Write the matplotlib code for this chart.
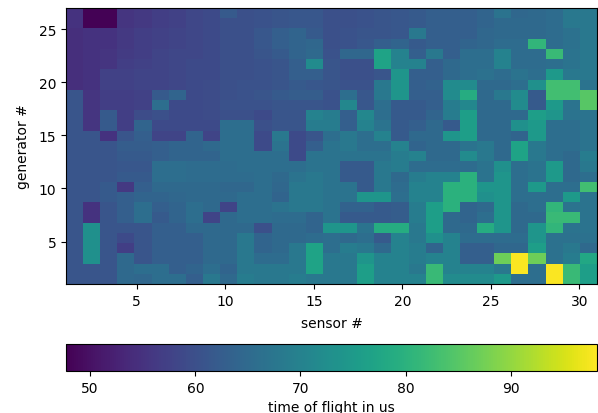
import matplotlib
matplotlib.use('Agg')
import matplotlib.pyplot as plt
import numpy as np

# time of flight, top row is generator 27, columns are sensors 1..31
tof = [
 [55,48,48,55.5,56,57,57.5,58.5,59,62,60,60.5,61,61.5,61.5, 60,60,60.5,61,61.5,62,63,63,63,64,67,64.5,65,65.5,68,68],
 [55,48,48,55.5,56,57,57.5,58.5,59,60,60,60.5,61,61.5,61.5, 60,60,60.5,61,61.5,62,63,63,63,64,65,65,65,65.5,68,68],
 [54.5,55,55,56,57,57.5,58,58.5,59,60,60,61.5,63,64,62, 60,60.5,61,61,61.5,68,63,63,63,64.5,65,65,65,65.5,66.5,68],
 [54.5,55,55,56,57,57.5,58,58.5,59,60,60,61.5,63,64,64.5, 60,60.5,61.5,63,64,62,63,63,64,64.5,65.5,65.5,81,65.5,66.5,68],
 [54.5,55,55.5,56.5,57,58,58.5,58.5,59,60,60,61,62,64,65, 60.5,64.5,64.5,77,70,63,68,63,66,66,70,65.5,65.5,82,67,68],
 [54.5,55,55.5,57,57.5,58,58.5,59,59,60,60,60.5,61,63,72, 61,60,60,77,70,70,63,65,66,66,70,65.5,65.5,66,67,68],
 [54.5,55,57.5,57.5,58,58,58.5,59,59,60,60,60.5,61,63,63, 61,60,60,61,74,63,63,65,66,66.5,65.5,67,66,75,68,68],
 [54.5,55,57.5,57.5,58,58,58.5,59,59.5,60,60.5,60.5,61,62,61.5, 61,60.5,60.5,68,74,63,63.5,72,72,65,65,66,73,83,83,67],
 [61,55.5,57,57,57.5,62,64,59,59.5,60,60.5,61,62,62.5,62.5, 60.5,66,61.5,68,74,63,63,72,79,65,68,72,62,83,83,85],
 [61,55.5,57,57,57.5,66,59,59,59.5,60.5,60.5,60.5,61,61,61, 60.5,71,61.5,66,62,62,63,69,71,65,65,72,62,75,67,85],
 [61,55.5,62,57,59.5,60,59,59,59.5,60,60,59,61,61,70, 69,63,71,66,62,62,64,69,76,65,65,65,76,74,67,67],
 [61,55.5,62,57,64,59,59,59,59,66,66,60,61,61,69, 69,63,70,67,62,63,65,62,76,65,65,73,75,66,66,67],
 [61,61,55,61,63,58,58,64,58,66,66,59,68,59,61, 66,68,66,70,62,65,65,74,76,65,65,64,75,66,66,67],
 [61,61,61,62.5,62.5,63,64,64,65,66,66,59,67,59,63, 67,68,66,66,70,64,65,65,67,68,65,77,68,66,66,67],
 [61,61,61,62,62,63,64,64,64,66,66,66,66,59,67, 67,67,67,67,69,70,65,65,72,68,65,77,68,66,65,69],
 [61,61,61,61.5,61.5,66,66,65.5,65.5,65.5,66,66,66,66,67, 67,62,62,68,69,65.5,65.5,65.5,65.5,67,73,66,67,75,65,68],
 [61,61,61,62,62,66,66,65.5,65.5,65.5,65.5,66,65,67,68, 67,62,62,68,65,69,70,70,80,67,74,66,67,75,65,66],
 [61,61,62,56,63,65,65,65,65,64.5,64.5,66,64.5,68,68, 67,67,62,68,65.5,70,70,80,80,74,74,66,75,66,66,83],
 [61,61,62,63,64,64,64.5,65,65,65,66,66,64,68,68, 67,67,74,74,66,70,70,80,80,73,74,66,66,66,75,67],
 [61,55,61,63,66,63,64,66,65,58,66,66,67,68,68, 67,63.5,63.5,62,62.5,69,76,80,64,65,74,65,66,81,67,67],
 [61,55,61,63,66,62,64,66,58,65,66,66,65.5,65.5,64, 67,62,62,62,62.5,69,76,65,64,66,74,65,65,82,82,67],
 [61,73,61,61,61,63,63,65,65,65,65,60,65,65,64, 74,74,67,79,79,68,76,65,65,79,74,65,74,81,67,67],
 [61,73,61,59,61,63,63,63,65,65,68,64,65,65,65.5, 66,65,66,62,70,68,73,70,65.5,65.5,65.5,65.5,74,66.5,66.5,66.5],
 [61,73,61,57,61,63,63,63,65,65,68,64,65,68,77, 66,69,68,65,70,69,64,70,63,63,64.5,64.5,76,66.5,68,65],
 [61,73,61,65,61,63,63,63,65,65,68,65.5,65.5,68,77, 68,68,74,70,70,69,70,70,63,63,87,98,87,66.5,69,78],
 [61,61,61,65,66,66,63,64,66,64,68,68,68,68,77, 68,68,76,70,70,68,82,70,70,70,68,98,66,98,82,76],
 [61,61,61,65,64.5,66,66,63,68,65,69,68,68,69,68, 68,68,76,70,70,70,82,72,72,72,75,66,66,98,82,76],
]
sensor_range = [1, 31]
generator_range = [1, 27]
tof_min, tof_max = 47.7, 98.2

W, H = 598, 414
fig = plt.figure(figsize=(W/100, H/100), dpi=100)
ax = fig.add_axes([66/W, 1-285/H, 531/W, 276/H])
cax = fig.add_axes([66/W, 1-372/H, 531/W, 27/H])

im = ax.imshow(np.array(tof), aspect='auto', cmap='viridis', vmin=tof_min, vmax=tof_max,
               extent=[sensor_range[0], sensor_range[1], generator_range[0], generator_range[1]],
               interpolation='nearest')
ax.set_xticks([5, 10, 15, 20, 25, 30])
ax.set_yticks([5, 10, 15, 20, 25])
ax.tick_params(labelsize=10)
ax.set_xlabel('sensor #', fontsize=10, labelpad=6)
ax.set_ylabel('generator #', fontsize=10, labelpad=6)

cb = fig.colorbar(im, cax=cax, orientation='horizontal')
cb.set_ticks([50, 60, 70, 80, 90])
cb.ax.tick_params(labelsize=10)
cb.set_label('time of flight in us', fontsize=10)

fig.savefig('out.png', dpi=100)
